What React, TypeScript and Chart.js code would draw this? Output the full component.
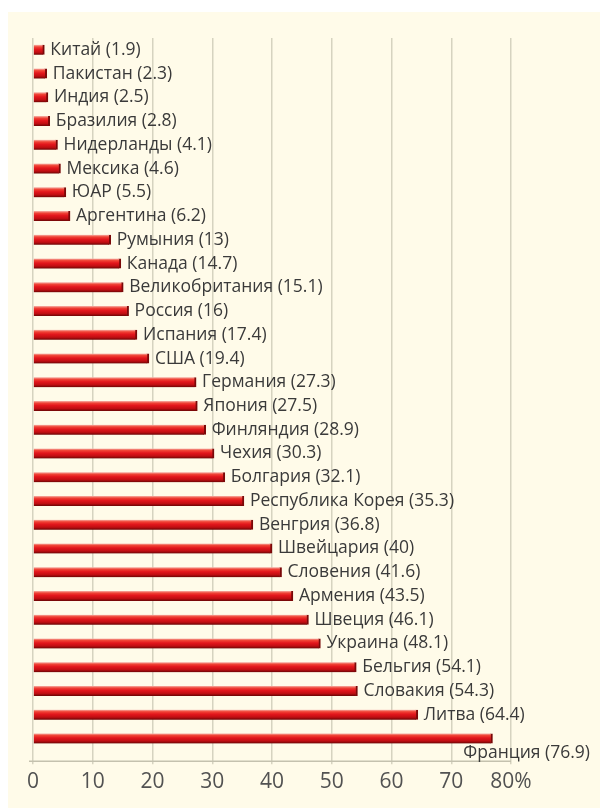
import React, { useEffect, useRef } from "react";
import { Chart, registerables } from "chart.js";

Chart.register(...registerables);

const countries = [
  "Китай", "Пакистан", "Индия", "Бразилия", "Нидерланды", "Мексика", "ЮАР",
  "Аргентина", "Румыния", "Канада", "Великобритания", "Россия", "Испания", "США",
  "Германия", "Япония", "Финляндия", "Чехия", "Болгария", "Республика Корея",
  "Венгрия", "Швейцария", "Словения", "Армения", "Швеция", "Украина", "Бельгия",
  "Словакия", "Литва", "Франция",
];
const values = [
  1.9, 2.3, 2.5, 2.8, 4.1, 4.6, 5.5, 6.2, 13, 14.7, 15.1, 16, 17.4, 19.4,
  27.3, 27.5, 28.9, 30.3, 32.1, 35.3, 36.8, 40, 41.6, 43.5, 46.1, 48.1, 54.1,
  54.3, 64.4, 76.9,
];
const tickLabels = ["0", "10", "20", "30", "40", "50", "60", "70", "80%"];

const LABEL_FONT = "17.5px 'Open Sans', sans-serif";

export default function App() {
  const ref = useRef<HTMLCanvasElement | null>(null);

  useEffect(() => {
    const canvas = ref.current;
    if (!canvas) return;

    const labelPlugin = {
      id: "barLabels",
      afterDatasetsDraw(chart: any) {
        const ctx = chart.ctx;
        const meta = chart.getDatasetMeta(0);
        ctx.save();
        ctx.font = LABEL_FONT;
        ctx.fillStyle = "#3a3a3a";
        ctx.textBaseline = "middle";
        meta.data.forEach((bar: any, i: number) => {
          const text = `${countries[i]} (${values[i]})`;
          const w = ctx.measureText(text).width;
          const x = bar.x + 6;
          if (x + w > chart.width - 6) {
            ctx.textAlign = "right";
            ctx.fillText(text, chart.width - 10, bar.y + 15);
          } else {
            ctx.textAlign = "left";
            ctx.fillText(text, x, bar.y);
          }
        });
        ctx.restore();
      },
    };

    const axisPlugin = {
      id: "axisLine",
      beforeDatasetsDraw(chart: any) {
        const { ctx, chartArea } = chart;
        ctx.save();
        ctx.strokeStyle = "#c4c1ae";
        ctx.lineWidth = 1.5;
        ctx.beginPath();
        const y = chartArea.bottom + 11;
        ctx.moveTo(chartArea.left - 4, y);
        ctx.lineTo(chartArea.right, y);
        ctx.stroke();
        ctx.restore();
      },
    };

    const chart = new Chart(canvas, {
      type: "bar",
      data: {
        labels: countries,
        datasets: [
          {
            data: values,
            barThickness: 10,
            backgroundColor: (c: any) => {
              const ch = c.chart;
              if (!ch.chartArea) return "#e0141a";
              const y = ch.scales.y.getPixelForValue(c.dataIndex);
              const g = ch.ctx.createLinearGradient(0, y - 5, 0, y + 5);
              g.addColorStop(0, "#f6b2a8");
              g.addColorStop(0.2, "#f04436");
              g.addColorStop(0.45, "#e3161c");
              g.addColorStop(0.75, "#c00e12");
              g.addColorStop(1, "#6a0505");
              return g;
            },
            borderColor: "#7a0808",
            borderWidth: { top: 0, bottom: 0, left: 0, right: 2 },
            borderSkipped: false,
          },
        ],
      },
      options: {
        indexAxis: "y",
        responsive: false,
        animation: false,
        devicePixelRatio: 1,
        layout: { padding: { left: 33, right: 89, top: 38, bottom: 9.5 } },
        plugins: {
          legend: { display: false },
          tooltip: { enabled: false },
        },
        scales: {
          y: {
            display: false,
          },
          x: {
            min: 0,
            max: 80,
            ticks: {
              stepSize: 10,
              padding: 5.5,
              color: "#525252",
              font: { family: "'Open Sans', sans-serif", size: 21 },
              callback: (_v: any, i: number) => tickLabels[i],
            },
            grid: {
              color: "#d6d3c0",
              lineWidth: 1.5,
              tickLength: 14,
              drawOnChartArea: true,
            },
            border: { display: false },
          },
        },
      },
      plugins: [axisPlugin, labelPlugin],
    });

    return () => chart.destroy();
  }, []);

  return (
    <div
      style={{
        position: "absolute",
        left: 0,
        top: 0,
        width: 600,
        height: 810,
        background: "#ffffff",
      }}
    >
      <div
        style={{
          position: "absolute",
          left: 8,
          top: 12,
          width: 592,
          height: 796,
          background: "#fffbe9",
        }}
      />
      <canvas
        ref={ref}
        width={600}
        height={810}
        style={{ position: "absolute", left: 0, top: 0, width: 600, height: 810 }}
      />
    </div>
  );
}
